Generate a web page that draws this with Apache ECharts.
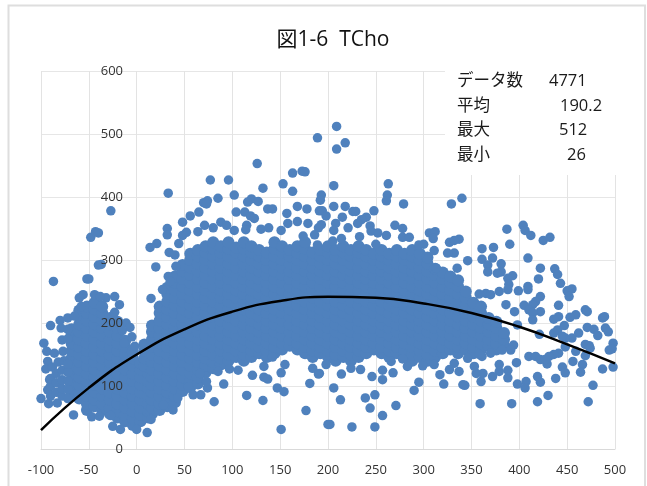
<!DOCTYPE html>
<html><head><meta charset="utf-8">
<style>html,body{margin:0;padding:0;background:#fff}#c{width:647px;height:486px}</style>
<script src="https://cdn.jsdelivr.net/npm/echarts@6/dist/echarts.min.js"></script>
</head><body><div id="c"></div>
<script>
const chartTitle = '図1-6  TCho';
const statLabels = ['データ数', '平均', '最大', '最小'];
const statValues = ['4771', '190.2', '512', '26'];
const xTicks = { min: -100, max: 500, step: 50 };
const yTicks = { min: 0, max: 600, step: 100 };

// Individually readable points
const outlierPoints = [
[189,494],[126,453],[77,427],[96,427],[33,406],[-27,378],[-48,336],[-43,345],[-40,343],[85,398],[102,403],[132,414],[153,421],[163,438],[173,441],[176,440],[163,409],[193,403],[192,395],[120,397],[116,392],[127,393],[74,394],[70,391],[73,389],[65,376],[56,370],[48,360],[104,376],[113,376],[119,370],[123,366],[137,381],[142,381],[157,374],[168,385],[178,381],[191,378],[194,378],[198,370],[158,358],[168,361],[179,358],[193,356],[190,351],[186,340],[32,350],[32,340],[71,355],[80,351],[88,360],[94,355],[102,347],[115,355],[114,348],[130,349],[138,351],[151,347],[52,344],[48,339],[64,345],[174,338],[189,324],[21,326],[14,320],[44,326],
[209,512],[218,486],[209,476],[206,418],[263,421],[262,403],[261,394],[329,389],[340,398],[279,389],[206,385],[218,385],[226,377],[229,377],[248,378],[240,368],[235,364],[231,358],[215,368],[208,358],[206,347],[221,351],[244,354],[270,355],[278,350],[245,346],[252,343],[261,339],[306,343],[312,345],[310,334],[278,336],[285,336],[387,349],[404,355],[406,347],[412,339],[425,331],[432,336],[390,325],[373,320],[361,318],[327,328],[337,333],[332,331],[300,325],[295,324],[214,334],[205,330],[233,337],[250,325],
[409,303],[361,301],[372,303],[381,294],[367,292],[367,281],[381,281],[377,279],[346,299],[335,287],[311,315],[332,311],[325,311],[313,287],[304,302],[422,287],[437,286],[440,277],[420,270],[443,263],[393,275],[388,271],[389,261],[409,258],[409,253],[399,251],[450,251],[455,254],[452,242],[422,242],[417,234],[414,229],[441,228],[405,228],[410,221],[422,218],[414,216],[469,221],[471,218],[459,213],[453,209],[441,210],[436,206],[487,208],[489,210],[414,205],[395,218],[386,229],[379,250],[388,253],[365,247],[358,246],[370,245],[447,196],[440,189],[436,184],[421,182],[462,184],[471,193],[478,190],[490,192],[493,186],[482,180],[455,176],[448,176],[445,179],[498,168],[473,164],[494,157],[497,159],[469,166],[474,160],[459,155],[448,162],[441,152],[469,148],[436,150],[431,147],[410,147],[417,147],[422,142],[429,135],[427,142],[456,139],[466,134],[464,122],[445,130],[448,121],[438,112],[487,127],[498,130],[477,101],[472,75],[430,85],[419,75],[392,72],[359,72],[419,115],[422,106],[407,107],[406,97],[398,103],[397,137],[394,165],[391,157],[382,157],[398,197],[370,152],[361,147],[358,150],[388,113],[388,125],[379,134],[379,123],[372,115],[360,107],[362,120],[355,120],[353,131],[346,144],[341,102],[343,101],[337,123],[332,136],[327,126],[321,103],[317,118],[295,106],[290,93],[271,69],[257,53],[249,35],[244,65],[239,81],[249,86],[246,115],[257,110],[268,121],[257,125],[266,139],[234,126],[224,128],[214,119],[206,97],[213,78],[225,35],[202,39],[191,120],[283,131],[278,143],[299,132],[311,134],
[-87,266],[-52,270],[-50,270],[-40,292],[-37,293],[-56,245],[-44,245],[-23,242],[-18,229],[-23,217],[-60,240],[-32,240],[-38,242],[-90,196],[-80,204],[-72,208],[-65,211],[-58,226],[-79,192],[-78,173],[-97,168],[-94,155],[-86,152],[-77,155],[-93,139],[-95,127],[-91,110],[-93,94],[-100,80],[-92,72],[-83,73],[-66,54],[-47,51],[-39,52],[-27,53],[-25,36],[-17,31],[0,31],[11,26],[15,47],[-11,200],[-7,193],[-15,188],[-5,178],[-13,168],[-2,163],[15,239],[20,289],[34,312],[40,308],[33,274],[35,266],[41,290],[27,253],
[151,31],[81,75],[115,85],[132,77],[91,103],[59,86],[67,86],[54,99],[74,97],[73,107],[97,127],[106,125],[121,117],[133,114],[137,111],[147,97],[154,91],[151,121],[133,131],[155,134],[177,61],[181,104],[184,128],[190,119],[200,39],[198,134],[142,146],[38,62],[28,70],[43,81],[85,123],[66,120]
];
// Sparse left edge of the low cholesterol group
const leftEdgePoints = [
[-90,84],[-90,100],[-90,112],[-88,130],[-84,90],[-84,105],[-84,120],[-82,138],[-78,84],[-78,96],[-78,110],[-78,125],[-76,140],[-72,80],[-72,95],[-72,108],[-72,122],[-72,135],[-72,175],[-72,190]
];
// Saturated areas, one [x, [y...]] per column
const lowCluster = [
[-68,[86,96,108,120,132,144,156,168,180,190]],
[-60,[80,90,102,114,126,138,150,162,174,186,198,210,220]],
[-52,[62,72,84,96,108,120,132,144,156,168,180,192,204,216,226]],
[-44,[68,78,90,102,114,126,138,150,162,174,186,198,210,222,232]],
[-36,[62,72,84,96,108,120,132,144,156,168,180,192,204,216,226]],
[-28,[56,66,78,90,102,114,126,138,150,162,174,186,198,208]],
[-20,[50,60,72,84,96,108,120,132,144,156,168,180,192,202]],
[-12,[44,54,66,78,90,102,114,126,138,150,162,172]],
[-4,[38,48,60,72,84,96,108,120,132,144,154]],
[4,[44,54,66,78,90,102,114,126,136]],
[12,[50,60,72,84,96,108,120,130]]
];
const mainCloud = [
[8,[132,144,156,166]],
[16,[56,66,78,90,102,114,126,138,150,162,174,186,196]],
[24,[62,72,84,96,108,120,132,144,156,168,180,192,204,216,226]],
[32,[68,78,90,102,114,126,138,150,162,174,186,198,210,222,234,246,256]],
[40,[74,84,96,108,120,132,144,156,168,180,192,204,216,228,240,252,264,274]],
[48,[92,102,114,126,138,150,162,174,186,198,210,222,234,246,258,270,282,292]],
[56,[98,108,120,132,144,156,168,180,192,204,216,228,240,252,264,276,288,300,310]],
[64,[104,114,126,138,150,162,174,186,198,210,222,234,246,258,270,282,294,306,316]],
[72,[122,132,144,156,168,180,192,204,216,228,240,252,264,276,288,300,312,322]],
[80,[128,138,150,162,174,186,198,210,222,234,246,258,270,282,294,306,318,328]],
[88,[134,144,156,168,180,192,204,216,228,240,252,264,276,288,300,312,322]],
[96,[140,150,162,174,186,198,210,222,234,246,258,270,282,294,306,318,328]],
[104,[146,156,168,180,192,204,216,228,240,252,264,276,288,300,312,320]],
[112,[140,150,162,174,186,198,210,222,234,246,258,270,282,294,306,318,328]],
[120,[146,156,168,180,192,204,216,228,240,252,264,276,288,300,312,322]],
[128,[152,162,174,186,198,210,222,234,246,258,270,282,294,306,316]],
[136,[146,156,168,180,192,204,216,228,240,252,264,276,288,300,312]],
[144,[152,162,174,186,198,210,222,234,246,258,270,282,294,306,318,328]],
[152,[158,168,180,192,204,216,228,240,252,264,276,288,300,312,322]],
[160,[164,174,186,198,210,222,234,246,258,270,282,294,306,316]],
[168,[158,168,180,192,204,216,228,240,252,264,276,288,300,312,322]],
[176,[152,162,174,186,198,210,222,234,246,258,270,282,294,306,318,328]],
[184,[146,156,168,180,192,204,216,228,240,252,264,276,288,300,312]],
[192,[152,162,174,186,198,210,222,234,246,258,270,282,294,306,316]],
[200,[146,156,168,180,192,204,216,228,240,252,264,276,288,300,312,322]],
[208,[140,150,162,174,186,198,210,222,234,246,258,270,282,294,306,316]],
[216,[146,156,168,180,192,204,216,228,240,252,264,276,288,300,312,322]],
[224,[140,150,162,174,186,198,210,222,234,246,258,270,282,294,306,316]],
[232,[146,156,168,180,192,204,216,228,240,252,264,276,288,300,312,322]],
[240,[152,162,174,186,198,210,222,234,246,258,270,282,294,306,316]],
[248,[158,168,180,192,204,216,228,240,252,264,276,288,300,310]],
[256,[152,162,174,186,198,210,222,234,246,258,270,282,294,306,316]],
[264,[146,156,168,180,192,204,216,228,240,252,264,276,288,300,310]],
[272,[152,162,174,186,198,210,222,234,246,258,270,282,294,306,316]],
[280,[146,156,168,180,192,204,216,228,240,252,264,276,288,300,310]],
[288,[140,150,162,174,186,198,210,222,234,246,258,270,282,294,306,316]],
[296,[146,156,168,180,192,204,216,228,240,252,264,276,288,300,310]],
[304,[140,150,162,174,186,198,210,222,234,246,258,270,282,294,304]],
[312,[146,156,168,180,192,204,216,228,240,252,264,276,286]],
[320,[152,162,174,186,198,210,222,234,246,258,270,280]],
[328,[158,168,180,192,204,216,228,240,252,264,274]],
[336,[152,162,174,186,198,210,222,234,246,258,268]],
[344,[158,168,180,192,204,216,228,240,250]],
[352,[152,162,174,186,198,210,222,232]],
[360,[158,168,180,192,204,216,226]],
[368,[164,174,186,198,208]],
[376,[158,168,180,192,202]],
[384,[164,174,184]]
];
const trendX = [-100,-50,0,50,100,150,200,250,300,350,400,450,500];
const trendY = [30,97,150,190,218,235,241.5,240,231,216,194,166,136];

const scatterData = outlierPoints.concat(leftEdgePoints);
const saturatedData = [];
lowCluster.concat(mainCloud).forEach(col => col[1].forEach(y => saturatedData.push([col[0], y])));
const trendData = trendX.map((x, i) => [x, trendY[i]]);

const fontFamily = '"Open Sans","Noto Sans CJK JP",sans-serif';
const statRowY = [81, 106, 130, 155];
const statValueX = [549, 560, 559, 567];
const graphics = [
  { type: 'rect', silent: true, z: 0, shape: { x: 8.5, y: 5.5, width: 636.5, height: 490 },
    style: { fill: 'none', stroke: '#dedede', lineWidth: 2 } },
  { type: 'rect', silent: true, z: 1, shape: { x: 445, y: 60, width: 175, height: 115 },
    style: { fill: '#fff' } }
];
statLabels.forEach((t, i) => {
  graphics.push({ type: 'text', z: 10, x: 457, y: statRowY[i],
    style: { text: t, font: '16.5px ' + fontFamily, fill: '#1a1a1a', verticalAlign: 'middle', align: 'left' } });
  graphics.push({ type: 'text', z: 10, x: statValueX[i], y: statRowY[i],
    style: { text: statValues[i], font: '16.5px ' + fontFamily, fill: '#1a1a1a', verticalAlign: 'middle', align: 'left' } });
});

const chart = echarts.init(document.getElementById('c'), null, { renderer: 'canvas' });
chart.setOption({
  animation: false,
  backgroundColor: '#fff',
  title: { text: chartTitle, left: 328, top: 35, textAlign: 'center', textVerticalAlign: 'middle',
    textStyle: { fontFamily, fontSize: 21, fontWeight: 'normal', color: '#111' } },
  grid: { left: 41, right: 32, top: 71, bottom: 37, containLabel: false },
  xAxis: { type: 'value', min: xTicks.min, max: xTicks.max, interval: xTicks.step,
    axisLine: { show: true, onZero: false, lineStyle: { color: '#d9d9d9', width: 1 } },
    axisTick: { show: false },
    axisLabel: { color: '#333', fontFamily, fontSize: 13, margin: 15 },
    splitLine: { show: true, lineStyle: { color: '#e3e3e3', width: 1 } } },
  yAxis: [
    { type: 'value', min: yTicks.min, max: yTicks.max, interval: yTicks.step,
      axisLine: { show: false }, axisTick: { show: false }, axisLabel: { show: false },
      splitLine: { show: true, lineStyle: { color: '#e6e6e6', width: 1 } } },
    { type: 'value', min: yTicks.min, max: yTicks.max, interval: yTicks.step, z: 6, position: 'left',
      axisLine: { show: false, onZero: false }, axisTick: { show: false },
      axisLabel: { color: '#333', fontFamily, fontSize: 13, margin: -82 },
      splitLine: { show: false } }
  ],
  series: [
    { type: 'scatter', name: 'saturated', data: saturatedData, symbol: 'circle', symbolSize: 12,
      itemStyle: { color: '#4f81bd', opacity: 1 }, z: 2 },
    { type: 'scatter', name: 'points', data: scatterData, symbol: 'circle', symbolSize: 9.5,
      itemStyle: { color: '#4f81bd', opacity: 1 }, z: 2 },
    { type: 'line', data: trendData, smooth: true, showSymbol: false,
      lineStyle: { color: '#000', width: 2.5 }, z: 3 }
  ],
  graphic: graphics
});
</script></body></html>
